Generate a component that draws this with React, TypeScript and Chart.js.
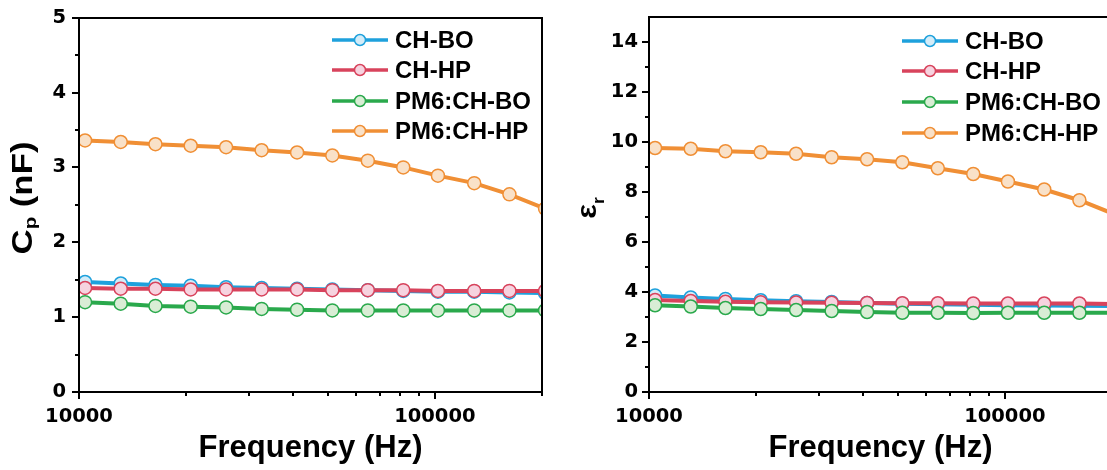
import React, { useEffect, useRef } from "react";
import { Chart, registerables } from "chart.js";
Chart.register(...registerables);

const frequencies = [10400, 13100, 16400, 20600, 25900, 32600, 41000, 51500, 64800, 81500, 102000, 129000, 162000, 204000];
const seriesNames = ["CH-BO", "CH-HP", "PM6:CH-BO", "PM6:CH-HP"];

const cpCHBO = [1.47, 1.45, 1.43, 1.42, 1.40, 1.39, 1.38, 1.37, 1.36, 1.35, 1.34, 1.34, 1.33, 1.32];
const cpCHHP = [1.39, 1.38, 1.38, 1.37, 1.37, 1.37, 1.37, 1.36, 1.36, 1.36, 1.35, 1.35, 1.35, 1.35];
const cpPM6CHBO = [1.20, 1.18, 1.15, 1.14, 1.13, 1.11, 1.10, 1.09, 1.09, 1.09, 1.09, 1.09, 1.09, 1.09];
const cpPM6CHHP = [3.36, 3.34, 3.31, 3.29, 3.27, 3.23, 3.20, 3.16, 3.09, 3.00, 2.89, 2.79, 2.64, 2.45];

const erCHBO = [3.86, 3.78, 3.72, 3.67, 3.63, 3.60, 3.56, 3.53, 3.51, 3.49, 3.47, 3.46, 3.45, 3.44];
const erCHHP = [3.68, 3.64, 3.61, 3.59, 3.58, 3.57, 3.56, 3.55, 3.55, 3.54, 3.54, 3.54, 3.54, 3.52];
const erPM6CHBO = [3.47, 3.42, 3.36, 3.32, 3.28, 3.24, 3.20, 3.17, 3.17, 3.16, 3.17, 3.17, 3.17, 3.17];
const erPM6CHHP = [9.76, 9.73, 9.63, 9.59, 9.53, 9.39, 9.31, 9.19, 8.95, 8.72, 8.42, 8.10, 7.67, 7.10];

const xTickValues = [10000, 100000];
const xTickLabels = ["10000", "100000"];
const xMinorTickValues = [20000, 30000, 40000, 50000, 60000, 70000, 80000, 90000, 200000];
const cpTickValues = [0, 1, 2, 3, 4, 5];
const cpMinorTickValues = [0.5, 1.5, 2.5, 3.5, 4.5];
const erTickValues = [0, 2, 4, 6, 8, 10, 12, 14];
const erMinorTickValues = [1, 3, 5, 7, 9, 11, 13];

const lineColors = ["#1ea1dc", "#d8435c", "#2aa94c", "#f08f35"];
const fillColors = ["#d4ecf8", "#f6d3df", "#d9edd5", "#f9e1c8"];

const FONT = "'Liberation Sans', Arial, sans-serif";
const TICK_FONT = "'DejaVu Sans', sans-serif";

function drawLine(ctx: CanvasRenderingContext2D, x1: number, y1: number, x2: number, y2: number) {
  ctx.beginPath();
  ctx.moveTo(x1, y1);
  ctx.lineTo(x2, y2);
  ctx.stroke();
}

const decorPlugin = {
  id: "decor",
  afterDatasetsDraw(chart: any, _args: any, opts: any) {
    const ctx: CanvasRenderingContext2D = chart.ctx;
    const { left, right, top, bottom } = chart.chartArea;
    const xs = chart.scales.x;
    const ys = chart.scales.y;
    ctx.save();
    ctx.strokeStyle = "#000";
    ctx.lineWidth = 2;
    ctx.strokeRect(Math.round(left), Math.round(top), Math.round(right - left), Math.round(bottom - top));
    for (const v of opts.yMajor) {
      const py = Math.round(ys.getPixelForValue(v));
      drawLine(ctx, left - 7, py, left, py);
    }
    for (const v of opts.yMinor) {
      const py = Math.round(ys.getPixelForValue(v));
      drawLine(ctx, left - 4, py, left, py);
    }
    for (const v of xTickValues) {
      const px = Math.round(xs.getPixelForValue(v));
      drawLine(ctx, px, bottom, px, bottom + 7);
    }
    for (const v of xMinorTickValues) {
      const px = Math.round(xs.getPixelForValue(v));
      if (px <= right + 1) drawLine(ctx, px, bottom, px, bottom + 4);
    }
    // x title
    ctx.fillStyle = "#000";
    ctx.font = `bold 31px ${FONT}`;
    ctx.textAlign = "center";
    ctx.textBaseline = "alphabetic";
    ctx.fillText("Frequency (Hz)", (left + right) / 2, 457);
    // y title (rotated, with subscript)
    ctx.save();
    ctx.translate(opts.yTitleBaseX, opts.yTitleY);
    ctx.rotate(-Math.PI / 2);
    ctx.scale(opts.yTitleStretch, 1);
    const parts = opts.yTitleParts as { text: string; size: number; dy: number }[];
    let total = 0;
    for (const p of parts) {
      ctx.font = `bold ${p.size}px ${FONT}`;
      total += ctx.measureText(p.text).width;
    }
    let x = -total / 2;
    ctx.textAlign = "left";
    for (const p of parts) {
      ctx.font = `bold ${p.size}px ${FONT}`;
      ctx.fillText(p.text, x, p.dy);
      x += ctx.measureText(p.text).width;
    }
    ctx.restore();
    // legend
    const lg = opts.legend;
    ctx.font = `bold 24px ${FONT}`;
    ctx.textAlign = "left";
    ctx.textBaseline = "middle";
    seriesNames.forEach((name, i) => {
      const y = lg.rows[i];
      ctx.strokeStyle = lineColors[i];
      ctx.lineWidth = 3.5;
      drawLine(ctx, lg.x0, y, lg.x1, y);
      ctx.beginPath();
      ctx.arc((lg.x0 + lg.x1) / 2, y, 5.5, 0, Math.PI * 2);
      ctx.fillStyle = fillColors[i];
      ctx.fill();
      ctx.lineWidth = 1.5;
      ctx.stroke();
      ctx.fillStyle = "#000";
      ctx.fillText(name, lg.x1 + 7, y + 1);
    });
    ctx.restore();
  },
};

function makeDatasets(values: number[][]) {
  return values.map((vals, i) => ({
    label: seriesNames[i],
    data: vals.map((v, j) => ({ x: frequencies[j], y: v })),
    borderColor: lineColors[i],
    backgroundColor: fillColors[i],
    pointBackgroundColor: fillColors[i],
    pointBorderColor: lineColors[i],
    pointBorderWidth: 1.5,
    pointRadius: 6.5,
    borderWidth: 4,
    tension: 0,
    order: 4 - i,
    clip: 0,
  }));
}

function makeConfig(opts: any): any {
  return {
    type: "line",
    data: { datasets: makeDatasets(opts.values) },
    plugins: [decorPlugin],
    options: {
      responsive: false,
      animation: false,
      events: [],
      layout: { padding: { left: 0, top: 17, right: 18, bottom: 0 } },
      plugins: {
        legend: { display: false },
        tooltip: { enabled: false },
        decor: {
          yMajor: opts.yMajor,
          yMinor: opts.yMinor,
          yTitleBaseX: opts.yTitleBaseX,
          yTitleY: opts.yTitleY,
          yTitleStretch: opts.yTitleStretch,
          yTitleParts: opts.yTitleParts,
          legend: opts.legend,
        },
      },
      scales: {
        x: {
          type: "logarithmic",
          min: 10000,
          max: 200000,
          border: { display: false },
          grid: { display: true, drawOnChartArea: false, drawTicks: true, tickLength: 7, color: "rgba(0,0,0,0)", tickColor: "rgba(0,0,0,0)" },
          afterBuildTicks: (scale: any) => {
            scale.ticks = xTickValues.map((v) => ({ value: v }));
          },
          afterFit: (scale: any) => {
            scale.height = 78;
          },
          ticks: {
            autoSkip: false,
            maxRotation: 0,
            padding: 6,
            color: "#000",
            font: { family: TICK_FONT, weight: "bold", size: 19.5 },
            callback: (v: any) => {
              const k = xTickValues.indexOf(Number(v));
              return k >= 0 ? xTickLabels[k] : "";
            },
          },
        },
        y: {
          type: "linear",
          min: 0,
          max: opts.yMax,
          border: { display: false },
          grid: { display: true, drawOnChartArea: false, drawTicks: true, tickLength: 7, color: "rgba(0,0,0,0)", tickColor: "rgba(0,0,0,0)" },
          afterBuildTicks: (scale: any) => {
            scale.ticks = opts.yMajor.map((v: number) => ({ value: v }));
          },
          afterFit: (scale: any) => {
            scale.width = opts.yWidth;
          },
          ticks: {
            autoSkip: false,
            padding: opts.yPad,
            color: "#000",
            font: { family: TICK_FONT, weight: "bold", size: 19.5 },
            callback: (v: any) => String(v),
          },
        },
      },
    },
  };
}

export default function App() {
  const leftRef = useRef<HTMLCanvasElement>(null);
  const rightRef = useRef<HTMLCanvasElement>(null);

  useEffect(() => {
    const left = new Chart(
      leftRef.current as HTMLCanvasElement,
      makeConfig({
        values: [cpCHBO, cpCHHP, cpPM6CHBO, cpPM6CHHP],
        yMax: 5,
        yMajor: cpTickValues,
        yMinor: cpMinorTickValues,
        yWidth: 79,
        yPad: 6,
        yTitleBaseX: 32,
        yTitleY: 198,
        yTitleStretch: 1.2,
        yTitleParts: [
          { text: "C", size: 29, dy: 0 },
          { text: "p", size: 17, dy: 4 },
          { text: " (nF)", size: 29, dy: 0 },
        ],
        legend: { x0: 332, x1: 388, rows: [40, 70, 101, 131] },
      })
    );
    const right = new Chart(
      rightRef.current as HTMLCanvasElement,
      makeConfig({
        values: [erCHBO, erCHHP, erPM6CHBO, erPM6CHHP],
        yMax: 15,
        yMajor: erTickValues,
        yMinor: erMinorTickValues,
        yWidth: 89,
        yPad: 4,
        yTitleBaseX: 36,
        yTitleY: 208,
        yTitleStretch: 1.1,
        yTitleParts: [
          { text: "ε", size: 28, dy: 0 },
          { text: "r", size: 16, dy: 8 },
        ],
        legend: { x0: 342, x1: 398, rows: [41, 71, 102, 133] },
      })
    );
    return () => {
      left.destroy();
      right.destroy();
    };
  }, []);

  return (
    <div style={{ position: "fixed", left: 0, top: 0, width: 1107, height: 470, overflow: "hidden", background: "#fff" }}>
      <canvas ref={leftRef} width={560} height={470} style={{ position: "absolute", left: 0, top: 0 }} />
      <canvas ref={rightRef} width={570} height={470} style={{ position: "absolute", left: 560, top: 0 }} />
    </div>
  );
}
